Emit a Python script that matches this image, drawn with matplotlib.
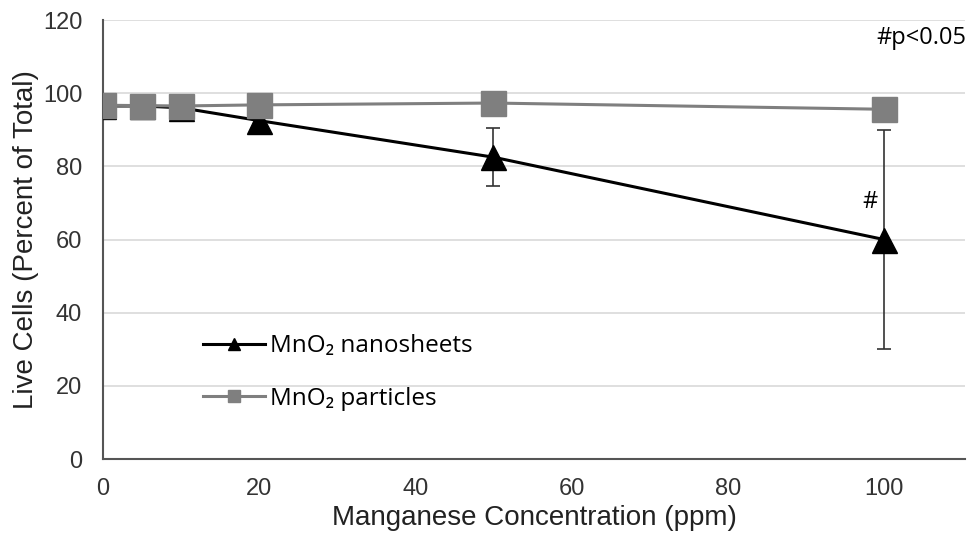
import numpy as np
import matplotlib.pyplot as plt

# concentrations (ppm)
conc = [0, 5, 10, 20, 50, 100]

# live cells, percent of total
nanosheets = [96.5, 96.5, 96.0, 92.5, 82.5, 60.0]
nanosheets_err = [1.0, 1.0, 1.5, 1.5, 8.0, 30.0]
particles = [96.7, 96.6, 96.5, 96.8, 97.3, 95.6]

yticks = [0, 20, 40, 60, 80, 100, 120]
xticks = [0, 20, 40, 60, 80, 100]

axis_font = ['Liberation Sans', 'DejaVu Sans']
label_font = ['Open Sans', 'DejaVu Sans']

fig = plt.figure(figsize=(9.68, 5.48), dpi=100)
ax = fig.add_axes([0.1064, 0.1624, 0.8906, 0.8011])

ax.errorbar(conc, nanosheets, yerr=nanosheets_err, fmt="none", ecolor="#333333",
            elinewidth=1.2, capsize=5, capthick=1.2, zorder=2)
ax.plot(conc, nanosheets, color="black", linewidth=2.2, marker="^",
        markersize=18, label="MnO₂ nanosheets", zorder=3)
ax.plot(conc, particles, color="#7f7f7f", linewidth=2.2, marker="s",
        markersize=18, label="MnO₂ particles", zorder=4)

ax.set_xlim(0, 110.4)
ax.set_ylim(0, 120)
ax.set_xticks(xticks)
ax.set_yticks(yticks)
ax.yaxis.grid(True, color="#d9d9d9", linewidth=1.2)
ax.set_axisbelow(True)
ax.tick_params(axis="y", length=0, labelsize=17, colors="#333333", pad=15)
ax.tick_params(axis="x", length=0, labelsize=17, colors="#333333", pad=14)
for lbl in ax.get_xticklabels() + ax.get_yticklabels():
	lbl.set_family(axis_font)

for s in ["top", "right"]:
	ax.spines[s].set_visible(False)
for s in ["left", "bottom"]:
	ax.spines[s].set_color("#555555")
	ax.spines[s].set_linewidth(1.5)

ax.set_xlabel("Manganese Concentration (ppm)", fontsize=20, family=axis_font,
              color="#222222", labelpad=3)
ax.set_ylabel("Live Cells (Percent of Total)", fontsize=20, family=axis_font,
              color="#222222", labelpad=3)

ax.text(98.2, 70.2, "#", fontsize=17, family=label_font, ha="center", va="center")
fig.text(0.998, 1 - 38 / 548, "#p<0.05", fontsize=17, family=label_font,
         ha="right", va="center")

leg = ax.legend(loc="lower left", bbox_to_anchor=(0.116, 0.11), frameon=False,
                prop={"family": label_font, "size": 17.5}, handlelength=2.55,
                labelspacing=1.18, handletextpad=0.2, markerscale=0.5,
                borderpad=0, borderaxespad=0)

fig.savefig("out.png", dpi=100)
